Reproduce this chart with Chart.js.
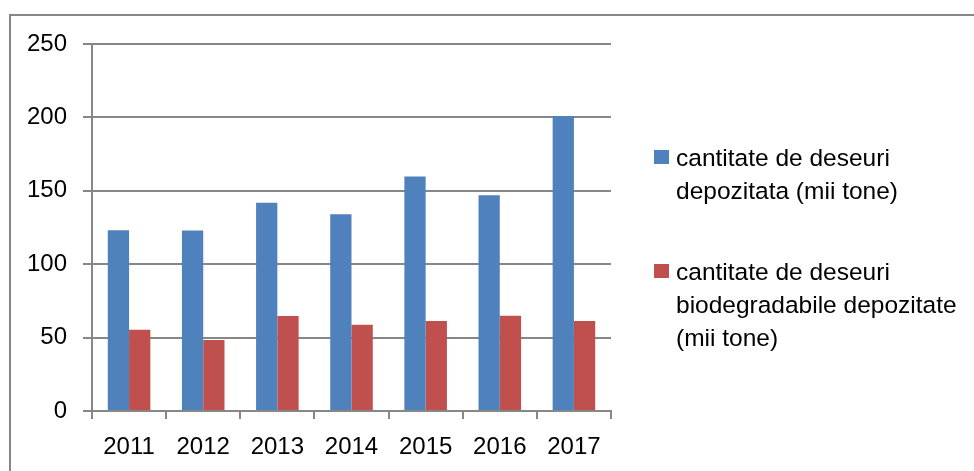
<!DOCTYPE html>
<html>
<head>
<meta charset="utf-8">
<script src="https://cdn.jsdelivr.net/npm/chart.js@4/dist/chart.umd.min.js"></script>
<style>
  html, body { margin: 0; padding: 0; background: #fff; }
  #wrap { position: relative; width: 974px; height: 471px; overflow: hidden; }
  #frame {
    position: absolute; left: 9px; top: 14px; width: 980px; height: 480px;
    border-top: 2px solid #878787; border-left: 2px solid #878787;
    box-sizing: border-box;
  }
  #legend {
    position: absolute; left: 654px; top: 0; width: 320px;
    font-family: "Liberation Sans", Arial, sans-serif; font-size: 24.5px; color: #000;
  }
  .item { position: absolute; left: 0; width: 320px; }
  .swatch { position: absolute; left: 0; width: 15px; height: 14px; }
  .text { position: absolute; left: 22px; line-height: 33px; white-space: nowrap; }
</style>
</head>
<body>
<div id="wrap">
  <div id="frame"></div>
  <canvas id="chart" width="974" height="471"></canvas>
  <div id="legend"></div>
</div>
<script>
// categories and series
const years = ["2011", "2012", "2013", "2014", "2015", "2016", "2017"];
const depozitata     = [123.2, 123, 141.8, 134.1, 159.7, 147, 201];
const biodegradabile = [55.3, 48.3, 64.7, 58.7, 61.3, 64.9, 61.3];
const yTicks = [0, 50, 100, 150, 200, 250];

const seriesLabels = [
  ["cantitate de deseuri", "depozitata (mii tone)"],
  ["cantitate de deseuri", "biodegradabile depozitate", "(mii tone)"]
];

const gridColor = "#878787";
const fontFamily = "'Liberation Sans', Arial, sans-serif";

const chart = new Chart(document.getElementById("chart").getContext("2d"), {
  type: "bar",
  data: {
    labels: years,
    datasets: [
      {
        label: seriesLabels[0].join(" "),
        data: depozitata,
        backgroundColor: "#4F81BD",
        borderWidth: 0
      },
      {
        label: seriesLabels[1].join(" "),
        data: biodegradabile,
        backgroundColor: "#C0504D",
        borderWidth: 0
      }
    ]
  },
  options: {
    responsive: false,
    animation: false,
    layout: { padding: { left: 27, top: 44, right: 363, bottom: 9 } },
    plugins: {
      legend:  { display: false },
      tooltip: { enabled: false }
    },
    datasets: {
      bar: { categoryPercentage: 0.574, barPercentage: 1 }
    },
    scales: {
      x: {
        afterFit: axis => { axis.height = 51; },
        grid: {
          offset: true,
          drawOnChartArea: false,
          color: gridColor,
          lineWidth: 2,
          tickLength: 8
        },
        border: { color: gridColor, width: 2 },
        ticks: {
          color: "#000",
          padding: 14,
          font: { family: fontFamily, size: 24 }
        }
      },
      y: {
        min: 0,
        max: 250,
        afterFit: axis => { axis.width = 65; },
        afterBuildTicks: axis => { axis.ticks = yTicks.map(v => ({ value: v })); },
        grid: { color: gridColor, lineWidth: 2, tickLength: 9 },
        border: { color: gridColor, width: 2 },
        ticks: {
          color: "#000",
          padding: 16,
          font: { family: fontFamily, size: 24 }
        }
      }
    }
  }
});

// HTML legend with wrapped labels, built from the datasets
const legendEl = document.getElementById("legend");
const itemTops = [141, 255];
chart.data.datasets.forEach((ds, i) => {
  const item = document.createElement("div");
  item.className = "item";
  item.style.top = itemTops[i] + "px";
  const sw = document.createElement("div");
  sw.className = "swatch";
  sw.style.background = ds.backgroundColor;
  sw.style.top = "9px";
  const tx = document.createElement("div");
  tx.className = "text";
  tx.innerHTML = seriesLabels[i].join("<br>");
  item.appendChild(sw);
  item.appendChild(tx);
  legendEl.appendChild(item);
});
</script>
</body>
</html>
